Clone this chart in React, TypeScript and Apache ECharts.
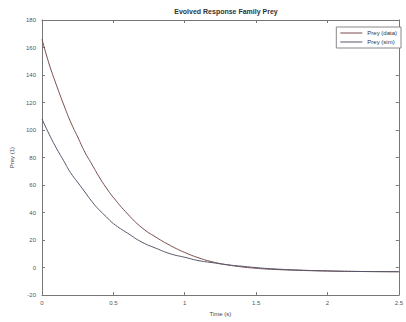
import React, { useEffect, useRef } from "react";
import * as echarts from "echarts";

const timeValues = [0, 0.05, 0.1, 0.15, 0.2, 0.25, 0.3, 0.35, 0.4, 0.45, 0.5, 0.6, 0.7, 0.8, 0.9, 1.0, 1.1, 1.2, 1.3, 1.4, 1.5, 1.6, 1.8, 2.0, 2.2, 2.5];
const upperValues = [166, 148, 133, 119, 106, 95, 84, 75, 66, 58, 51, 39, 29, 22, 16, 11, 7, 4, 2, 0.5, -0.5, -1.2, -2, -2.5, -2.8, -3];
const lowerValues = [108, 97, 87, 78, 69, 62, 55, 48, 42, 37, 32, 25, 18.5, 14, 10, 7.5, 5, 3.5, 2, 1, 0, -0.8, -1.8, -2.4, -2.8, -3];
const seriesNames = ["Prey (data)", "Prey (sim)"];
const titleText = "Evolved Response Family Prey";
const xLabel = "Time (s)";
const yLabel = "Prey (1)";

export default function App() {
  const ref = useRef<HTMLDivElement>(null);
  useEffect(() => {
    if (!ref.current) return;
    const chart = echarts.init(ref.current, undefined, { renderer: "svg" });
    const font = "Liberation Sans, Arial, sans-serif";
    const axisCommon = {
      axisLine: { show: true, onZero: false, lineStyle: { color: "#777", width: 1 } },
      axisTick: { show: true, inside: true, length: 3, lineStyle: { color: "#777" } },
      splitLine: { show: false },
    };
    chart.setOption({
      animation: false,
      backgroundColor: "#fff",
      title: {
        text: titleText,
        left: 226,
        textAlign: "center",
        top: 8,
        padding: 0,
        textStyle: { fontSize: 7, fontWeight: "bold", color: "#333", fontFamily: font },
      },
      legend: {
        right: 5,
        top: 27,
        orient: "vertical",
        itemWidth: 22,
        itemHeight: 1,
        itemGap: 3,
        padding: [3, 4, 3, 4],
        borderColor: "#888",
        borderWidth: 1,
        backgroundColor: "#fff",
        icon: "rect",
        textStyle: { fontSize: 6, color: "#333", fontFamily: font },
        data: seriesNames,
      },
      grid: { left: 42, right: 2, top: 20, bottom: 24 },
      xAxis: [
        {
          type: "value",
          min: 0,
          max: 2.5,
          interval: 0.5,
          name: xLabel,
          nameLocation: "middle",
          nameGap: 15,
          nameTextStyle: { fontSize: 6, color: "#444", fontFamily: font },
          axisLabel: { fontSize: 6, color: "#555", fontFamily: font, margin: 5 },
          ...axisCommon,
        },
        {
          type: "value",
          position: "top",
          min: 0,
          max: 2.5,
          interval: 0.5,
          axisLabel: { show: false },
          ...axisCommon,
        },
      ],
      yAxis: [
        {
          type: "value",
          min: -20,
          max: 180,
          interval: 20,
          name: yLabel,
          nameLocation: "middle",
          nameGap: 22,
          nameTextStyle: { fontSize: 6, color: "#444", fontFamily: font },
          axisLabel: { fontSize: 6, color: "#555", fontFamily: font, margin: 6 },
          ...axisCommon,
        },
        {
          type: "value",
          position: "right",
          min: -20,
          max: 180,
          interval: 20,
          axisLabel: { show: false },
          ...axisCommon,
        },
      ],
      series: [
        {
          name: seriesNames[0],
          type: "line",
          smooth: true,
          showSymbol: false,
          lineStyle: { color: "#7a4a4a", width: 1 },
          itemStyle: { color: "#7a4a4a" },
          data: timeValues.map((t, i) => [t, upperValues[i]]),
        },
        {
          name: seriesNames[1],
          type: "line",
          smooth: true,
          showSymbol: false,
          lineStyle: { color: "#55566a", width: 1 },
          itemStyle: { color: "#55566a" },
          data: timeValues.map((t, i) => [t, lowerValues[i]]),
        },
      ],
    });
    return () => chart.dispose();
  }, []);
  return <div ref={ref} style={{ width: 406, height: 322, position: "absolute", left: 0, top: 0 }} />;
}
